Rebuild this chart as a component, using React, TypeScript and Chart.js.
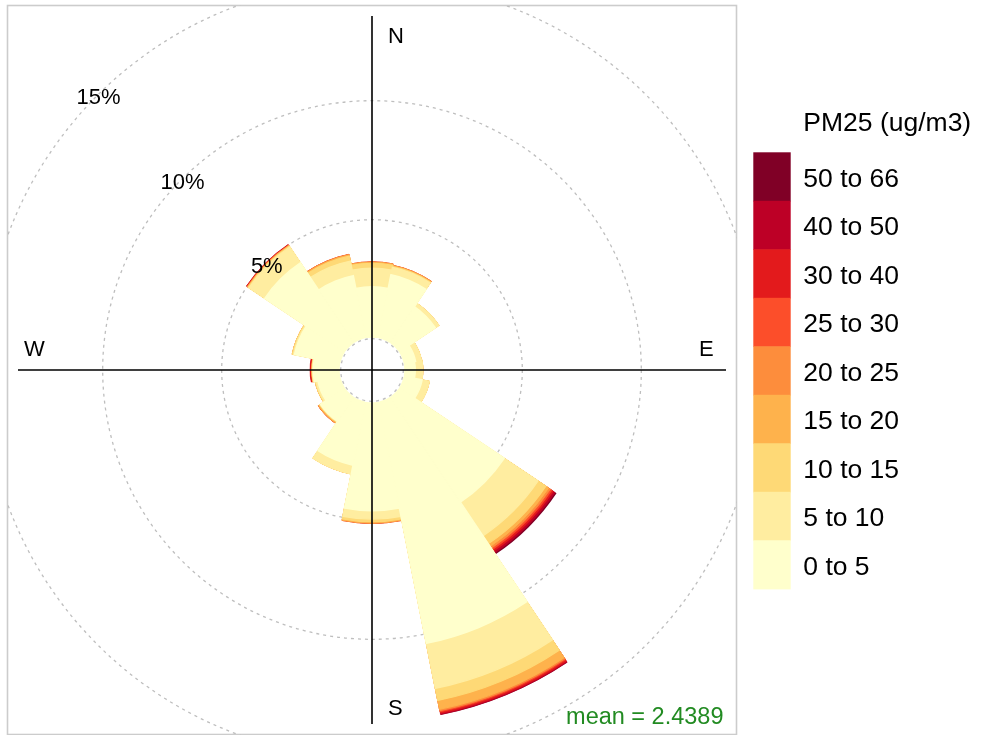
import React, { useEffect, useRef } from 'react';
import { Chart, registerables } from 'chart.js';

Chart.register(...registerables);

// wind sectors, clockwise from north
const directions = ['N', 'NNE', 'NE', 'ENE', 'E', 'ESE', 'SE', 'SSE', 'S', 'SSW', 'SW', 'WSW', 'W', 'WNW', 'NW', 'NNW'];

// PM25 concentration bands
const bandLabels = ['0 to 5', '5 to 10', '10 to 15', '15 to 20', '20 to 25', '25 to 30', '30 to 40', '40 to 50', '50 to 66'];
const bandColors = ['#FFFFCC', '#FFEDA0', '#FED976', '#FEB24C', '#FD8D3C', '#FC4E2A', '#E31A1C', '#BD0026', '#800026'];

// frequency (%) per sector for each band
const band0to5 = [2.18, 2.76, 1.88, 0.55, 0.50, 0.83, 5.36, 10.39, 4.60, 2.76, 1.28, 1.00, 1.15, 2.00, 4.10, 2.72];
const band5to10 = [0.78, 0.32, 0.17, 0.25, 0.32, 0.31, 1.71, 1.93, 0.35, 0.38, 0.02, 0.08, 0.03, 0.05, 0.80, 0.63];
const band10to15 = [0.21, 0.04, 0.01, 0, 0, 0, 0.40, 0.52, 0.11, 0, 0.03, 0.04, 0.02, 0.05, 0.04, 0.21];
const band15to20 = [0.04, 0.03, 0, 0, 0, 0, 0.14, 0.38, 0.05, 0, 0.05, 0, 0.01, 0, 0.03, 0.05];
const band20to25 = [0.02, 0.02, 0, 0, 0, 0, 0.09, 0.06, 0.02, 0, 0.02, 0, 0.01, 0, 0.02, 0.03];
const band25to30 = [0, 0, 0, 0, 0, 0, 0.08, 0.05, 0, 0, 0, 0, 0.01, 0, 0.01, 0];
const band30to40 = [0, 0, 0, 0, 0, 0, 0.08, 0.07, 0, 0, 0, 0, 0.06, 0, 0.03, 0];
const band40to50 = [0, 0, 0, 0, 0, 0, 0.09, 0.05, 0, 0, 0, 0, 0, 0, 0, 0];
const band50to66 = [0, 0, 0, 0, 0, 0, 0.06, 0.01, 0, 0, 0, 0, 0, 0, 0, 0];

const gridLevels = [5, 10, 15];
const legendTitle = 'PM25 (ug/m3)';
const meanText = 'mean = 2.4389';
const compass = ['N', 'E', 'S', 'W'];

const FONT = "'Liberation Sans', Arial, sans-serif";

const rosePlugin = {
  id: 'rosePlugin',
  beforeDatasetsDraw(chart: any) {
    const ctx = chart.ctx;
    const s = chart.scales.r;
    const cx = s.xCenter;
    const cy = s.yCenter;
    const half = s.drawingArea + 9.5;
    ctx.save();
    // frame
    ctx.strokeStyle = '#CCCCCC';
    ctx.lineWidth = 1.6;
    ctx.strokeRect(cx - half, cy - half, 2 * half, 2 * half);
    ctx.beginPath();
    ctx.rect(cx - half, cy - half, 2 * half, 2 * half);
    ctx.clip();
    ctx.strokeStyle = '#BEBEBE';
    ctx.lineWidth = 1.3;
    ctx.setLineDash([3, 4]);
    gridLevels.forEach((v) => {
      ctx.beginPath();
      ctx.arc(cx, cy, s.getDistanceFromCenterForValue(v), 0, Math.PI * 2);
      ctx.stroke();
    });
    ctx.restore();
  },
  afterDatasetsDraw(chart: any) {
    const ctx = chart.ctx;
    const s = chart.scales.r;
    const cx = s.xCenter;
    const cy = s.yCenter;
    ctx.save();
    // inner (0%) circle
    ctx.strokeStyle = '#BEBEBE';
    ctx.lineWidth = 1.3;
    ctx.setLineDash([3, 4]);
    ctx.beginPath();
    ctx.arc(cx, cy, s.getDistanceFromCenterForValue(0), 0, Math.PI * 2);
    ctx.stroke();
    ctx.setLineDash([]);
    // cross
    const L = s.drawingArea - 1;
    ctx.strokeStyle = '#000000';
    ctx.lineWidth = 1.6;
    ctx.beginPath();
    ctx.moveTo(cx - L, cy);
    ctx.lineTo(cx + L, cy);
    ctx.moveTo(cx, cy - L);
    ctx.lineTo(cx, cy + L);
    ctx.stroke();
    // compass labels
    ctx.fillStyle = '#000000';
    ctx.font = `22px ${FONT}`;
    ctx.textAlign = 'left';
    ctx.textBaseline = 'alphabetic';
    ctx.fillText(compass[0], cx + 16, cy - 327);
    ctx.fillText(compass[1], cx + 327, cy - 14);
    ctx.fillText(compass[2], cx + 16, cy + 345);
    ctx.fillText(compass[3], cx - 348, cy - 14);
    // percentage labels along NW diagonal
    ctx.textAlign = 'center';
    gridLevels.forEach((v) => {
      const r = s.getDistanceFromCenterForValue(v) - 1.5;
      const x = cx - r * Math.SQRT1_2;
      const y = cy - r * Math.SQRT1_2;
      ctx.fillText(`${v}%`, x, y + 8);
    });
    // mean annotation
    ctx.fillStyle = '#228B22';
    ctx.font = `23.5px ${FONT}`;
    ctx.textAlign = 'right';
    ctx.fillText(meanText, cx + 351.5, cy + 353.5);
    // legend
    const lx = 753.3;
    const bw = 37.4;
    const top = 152.3;
    const bh = 48.5;
    ctx.textAlign = 'left';
    ctx.fillStyle = '#000000';
    ctx.font = `26.5px ${FONT}`;
    ctx.fillText(legendTitle, 803.3, 131);
    const n = bandLabels.length;
    for (let k = n - 1; k >= 0; k--) {
      const y = top + (n - 1 - k) * bh;
      ctx.fillStyle = bandColors[k];
      ctx.fillRect(lx, y, bw, bh + 0.6);
      ctx.fillStyle = '#000000';
      ctx.fillText(bandLabels[k], 803.3, y + bh / 2 + 10);
    }
    ctx.restore();
  },
};

export default function App() {
  const ref = useRef<HTMLCanvasElement | null>(null);
  useEffect(() => {
    if (!ref.current) return;
    const bands = [band0to5, band5to10, band10to15, band15to20, band20to25, band25to30, band30to40, band40to50, band50to66];
    const cumulative = bands.map((_, k) =>
      directions.map((__, i) => bands.slice(0, k + 1).reduce((sum, b) => sum + b[i], 0))
    );
    const n = bands.length;
    const datasets: any[] = [
      {
        label: 'hole',
        data: directions.map(() => 0),
        backgroundColor: '#FFFFFF',
        borderColor: '#FFFFFF',
        borderWidth: 2,
        borderJoinStyle: 'miter',
      },
      ...cumulative.map((d, k) => ({
        label: bandLabels[k],
        data: d,
        backgroundColor: bandColors[k],
        borderColor: bandColors[k],
        // front layers get a slightly wider own-colour edge so that
        // the stacked layers behind do not bleed through anti-aliased edges
        borderWidth: (n - 1 - k) * 0.2,
        borderJoinStyle: 'miter',
      })),
    ];
    const chart = new Chart(ref.current, {
      type: 'polarArea',
      data: { labels: directions, datasets },
      options: {
        responsive: false,
        animation: false,
        devicePixelRatio: 1,
        layout: { padding: { left: 17, top: 15, right: 254, bottom: 10 } },
        plugins: { legend: { display: false }, tooltip: { enabled: false } },
        scales: {
          r: {
            type: 'radialLinear',
            min: -1.315,
            max: 13.6,
            startAngle: -11.25,
            ticks: { display: false },
            grid: { display: false },
            angleLines: { display: false },
            pointLabels: { display: false },
          },
        },
      } as any,
      plugins: [rosePlugin],
    });
    return () => chart.destroy();
  }, []);
  return (
    <div style={{ position: 'absolute', left: 0, top: 0, width: 981, height: 735, background: '#FFFFFF' }}>
      <canvas ref={ref} width={981} height={735} style={{ display: 'block' }} />
    </div>
  );
}
